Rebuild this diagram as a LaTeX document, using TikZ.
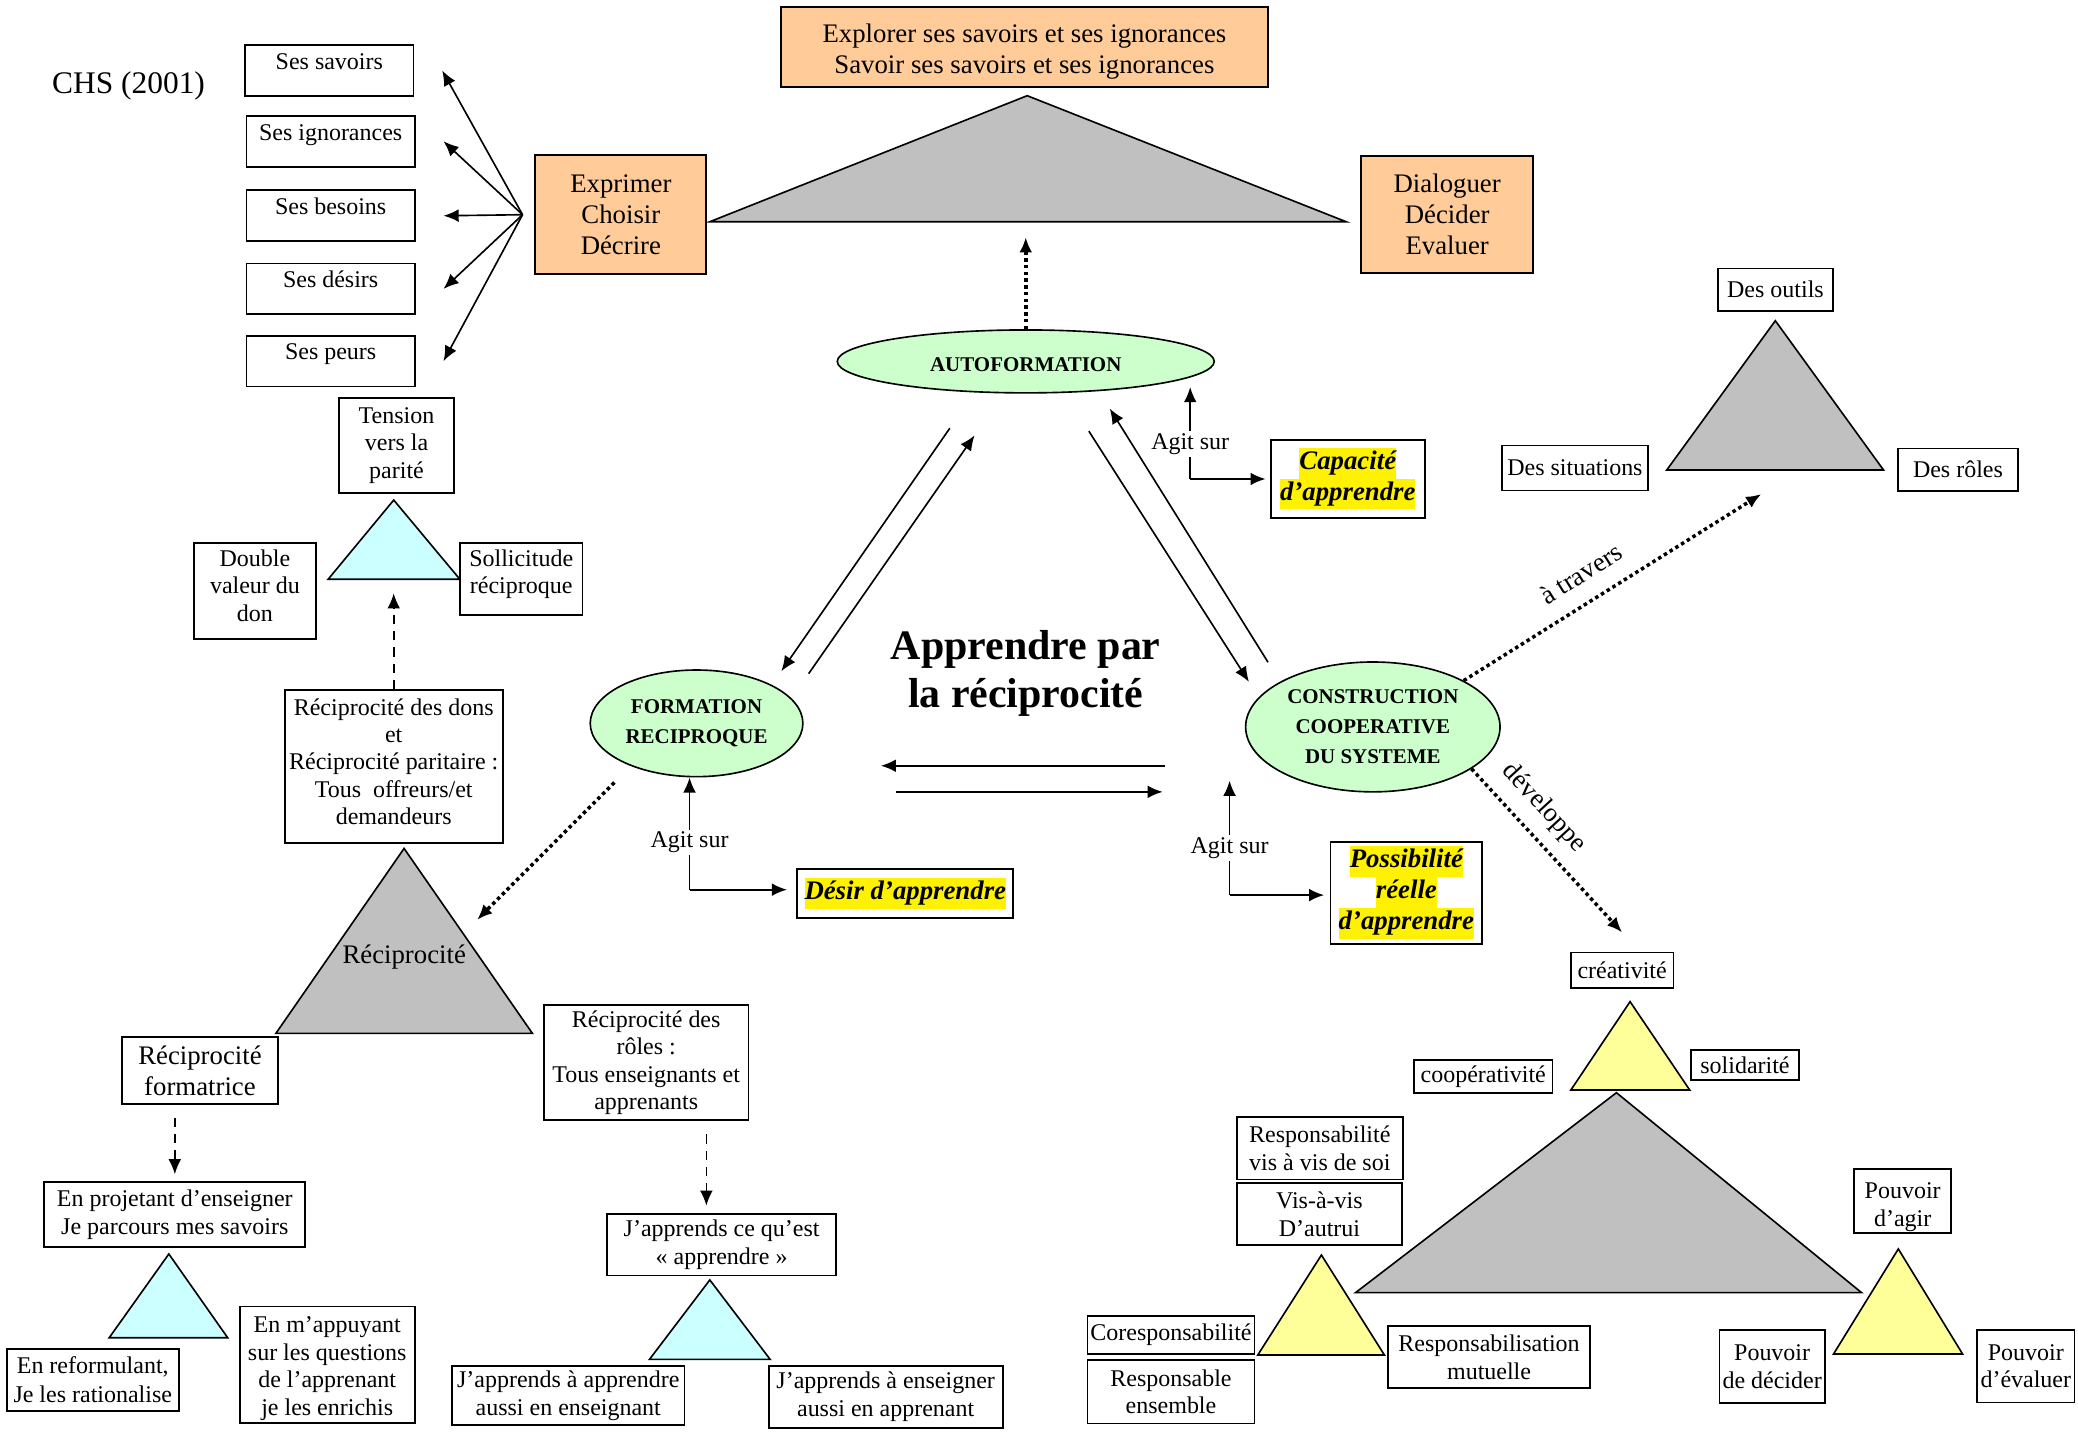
\documentclass[tikz,border=0pt]{standalone}
\usepackage{fontspec}
\setmainfont{Liberation Serif}
\usetikzlibrary{shapes.geometric,arrows.meta}
\definecolor{peche}{HTML}{FFCC99}
\definecolor{gris}{HTML}{C0C0C0}
\definecolor{vertpale}{HTML}{CCFFCC}
\definecolor{cyanpale}{HTML}{CCFFFF}
\definecolor{jaunepale}{HTML}{FFFF99}
\newcommand{\surligne}[1]{{\setlength{\fboxsep}{0pt}\colorbox{yellow}{\strut#1}}}

\begin{document}
\begin{tikzpicture}[x=0.02cm,y=-0.02cm]
 \tikzset{boite/.style={draw,line width=0.8pt,fill=white,align=center,inner sep=1pt,font=\fontsize{10.3}{11.8}\selectfont},
  listebox/.style={boite,minimum width=2.54cm,text height=9.4pt,text depth=10.4pt},
  orange/.style={boite,fill=peche,font=\fontsize{11.5}{13.4}\selectfont},
  bulle/.style={ellipse,draw,line width=0.7pt,fill=vertpale,align=center,inner sep=0pt,font=\fontsize{9}{12.8}\selectfont\bfseries},
  important/.style={boite,font=\fontsize{11.5}{13.2}\selectfont\bfseries\itshape},
  fleche/.style={line width=0.7pt,-{Latex[length=6.5pt,width=5.5pt]}},
  pointille/.style={fleche,line width=1.5pt,dash pattern=on 1.5pt off 1.4pt},
  tirets/.style={fleche,dash pattern=on 4pt off 3pt},
  agit/.style={fill=white,inner sep=1pt,font=\fontsize{10.3}{11.8}\selectfont},
  penche/.style={font=\fontsize{11.5}{13}\selectfont,sloped,inner sep=1pt},
  tri/.style={draw,line width=0.7pt}}
 \useasboundingbox (0,0) rectangle (1568,1080);

 % en haut a gauche
 \node[font=\fontsize{13.5}{15}\selectfont] (chs) at (97,65) {CHS (2001)};
 \node[listebox] (savoirs) at (248.5,53.2) {Ses savoirs};
 \node[listebox] (ignorances) at (249.5,106.6) {Ses ignorances};
 \node[listebox] (besoins) at (249.5,162.8) {Ses besoins};
 \node[listebox] (desirs) at (249.5,218) {Ses désirs};
 \node[listebox] (peurs) at (249.5,272.5) {Ses peurs};

 \node[orange,minimum width=2.58cm,minimum height=1.8cm] (exprimer) at (468.5,162) {Exprimer\\Choisir\\Décrire};
 \node[orange,minimum width=7.35cm,minimum height=1.2cm] (explorer) at (773,35.5) {\rule{0pt}{11.6pt}Explorer ses savoirs et ses ignorances\\Savoir ses savoirs et ses ignorances};
 \node[orange,minimum width=2.6cm,minimum height=1.77cm] (dialoguer) at (1092,161.8) {Dialoguer\\Décider\\Evaluer};
 \draw[tri,fill=gris] (775.1,72.2) -- (535.6,167.3) -- (1015.7,167.3) -- cycle;

 \coordinate (eventail) at ([xshift=-0.18cm]exprimer.west);
 \foreach \n in {savoirs,ignorances,besoins,desirs,peurs}
  \draw[fleche] (eventail) -- ([xshift=0.42cm]\n.east);

 % les trois poles
 \node[bulle,minimum width=5.69cm,minimum height=0.95cm] (autoform) at (774,272.7) {\rule{0pt}{9pt}AUTOFORMATION};
 \node[bulle,minimum width=3.21cm,minimum height=1.61cm] (formation) at (525.6,545.8) {FORMATION\\RECIPROQUE};
 \node[bulle,minimum width=3.84cm,minimum height=1.96cm] (construction) at (1035.9,548.5) {CONSTRUCTION\\COOPERATIVE\\DU SYSTEME};
 \node[font=\fontsize{18}{20.5}\selectfont\bfseries,align=center] (titre) at (774,508) {Apprendre par\\la réciprocité};

 \coordinate (af1) at (716.7,323.1); \coordinate (fa1) at (589.6,506.4);
 \coordinate (fa2) at (610.2,508.3); \coordinate (af2) at (735.4,328.5);
 \coordinate (ac1) at (821.6,325.3); \coordinate (ca1) at (942.4,514.5);
 \coordinate (ca2) at (956.8,499.7); \coordinate (ac2) at (837.4,308.3);
 \coordinate (cf1) at (878.8,577.8); \coordinate (fc1) at (664.6,577.8);
 \coordinate (fc2) at (676.2,597.5); \coordinate (cf2) at (877.4,597.5);
 \draw[fleche] (af1) -- (fa1);
 \draw[fleche] (fa2) -- (af2);
 \draw[fleche] (ac1) -- (ca1);
 \draw[fleche] (ca2) -- (ac2);
 \draw[fleche,line width=0.9pt] (cf1) -- (fc1);
 \draw[fleche,line width=0.9pt] (fc2) -- (cf2);

 \coordinate (pointeA) at (774,179);
 \draw[pointille] (autoform.north) -- (pointeA);

 % agit sur
 \node[important,minimum width=2.33cm,minimum height=1.18cm] (capacite) at (1017,361.2) {\surligne{Capacité}\\\surligne{d’apprendre}};
 \node[important,minimum width=3.26cm,minimum height=0.75cm] (desir) at (683.1,674.2) {\surligne{Désir d’apprendre}};
 \node[important,minimum width=2.29cm,minimum height=1.54cm] (possibilite) at (1061.2,673.5) {\surligne{Possibilité}\\\surligne{réelle}\\\surligne{d’apprendre}};

 \coordinate (coinA) at (898.1,361.4);
 \draw[fleche] (coinA) -- node[agit,pos=0.38] {Agit sur} ([yshift=0.1cm]coinA |- autoform.south);
 \draw[fleche,line width=1pt,shorten >=0.06cm] (coinA) -- (coinA -| capacite.west);
 \coordinate (coinF) at (520.3,671.3);
 \draw[fleche] (coinF) -- node[agit,pos=0.42] {Agit sur} (coinF |- formation.south);
 \draw[fleche,line width=1pt,shorten >=0.14cm] (coinF) -- (coinF -| desir.west);
 \coordinate (coinC) at (927.8,675.4);
 \draw[fleche] (coinC) -- node[agit,pos=0.41] {Agit sur} ([yshift=0.18cm]coinC |- construction.south);
 \draw[fleche,line width=1pt,shorten >=0.08cm] (coinC) -- (coinC -| possibilite.west);

 % a travers
 \node[boite,minimum width=1.73cm,minimum height=0.64cm] (outils) at (1339.7,218.6) {Des outils};
 \node[boite,minimum width=2.2cm,minimum height=0.68cm] (situations) at (1188.4,353.1) {Des situations};
 \node[boite,minimum width=1.82cm,minimum height=0.64cm] (desroles) at (1477.4,354.4) {Des rôles};
 \draw[tri,fill=gris] (1339.6,242) -- (1257.7,354.6) -- (1421.2,354.6) -- cycle;
 \coordinate (pointeS) at (1329,372.8);
 \draw[pointille] (construction.27) -- node[penche,above=6.4pt,pos=0.445] {à travers} (pointeS);

 % reciprocite
 \node[boite,minimum width=1.73cm,minimum height=1.44cm] (tension) at (299.2,336.2) {Tension\\vers la\\parité};
 \draw[tri,fill=cyanpale] (297.1,377.3) -- (247.6,437.1) -- (347,437.1) -- cycle;
 \node[boite,minimum width=1.83cm,minimum height=1.45cm] (double) at (192.4,446) {Double\\valeur du\\don\rule[-4.7pt]{0pt}{4.7pt}};
 \node[boite,minimum width=1.85cm,minimum height=1.09cm] (sollicitude) at (393.3,437) {Sollicitude\\réciproque\rule[-6.2pt]{0pt}{6.2pt}};
 \node[boite,minimum width=3.29cm,minimum height=2.3cm] (recipdons) at (297.1,578.3) {Réciprocité des dons\\et\\Réciprocité paritaire :\\Tous\ \ offreurs/et\\demandeurs\rule[-4.1pt]{0pt}{4.1pt}};
 \coordinate (pointeT) at (297.1,447.7);
 \draw[tirets] (recipdons.north) -- (pointeT);

 \draw[tri,fill=gris] (304.9,640.2) -- (208.2,779.7) -- (401.7,779.7) -- cycle;
 \node[font=\fontsize{11.5}{13}\selectfont] (reciprocite) at (305,722) {Réciprocité};
 \coordinate (pointeR) at (360,694);
 \draw[pointille,shorten <=0.35cm] (formation.213) -- (pointeR);

 \node[boite,font=\fontsize{11.5}{13.3}\selectfont,minimum width=2.35cm,minimum height=1.01cm] (formatrice) at (150.9,808) {Réciprocité\\formatrice};
 \node[boite,font=\fontsize{10.3}{12.2}\selectfont,minimum width=3.94cm,minimum height=0.99cm] (projetant) at (131.9,916.5) {En projetant d’enseigner\\Je parcours mes savoirs};
 \draw[tirets,shorten <=0.19cm,shorten >=0.1cm] (projetant.north |- formatrice.south) -- (projetant.north);
 \draw[tri,fill=cyanpale] (127.4,946.2) -- (82.4,1009.4) -- (171.8,1009.4) -- cycle;
 \node[boite,font=\fontsize{10.3}{12.2}\selectfont,minimum width=2.6cm,minimum height=0.94cm] (reformulant) at (70,1041.1) {En reformulant,\\Je les rationalise};
 \node[boite,minimum width=2.64cm,minimum height=1.67cm] (appuyant) at (246.9,1029.7) {\rule{0pt}{10.4pt}En m’appuyant\\sur les questions\\de l’apprenant\\je les enrichis};

 \node[boite,minimum width=3.09cm,minimum height=1.74cm] (rolesrecip) at (487.6,801.7) {Réciprocité des\\rôles :\\Tous enseignants et\\apprenants};
 \node[boite,minimum width=3.45cm,minimum height=0.93cm] (apprendsce) at (544.5,939.2) {J’apprends ce qu’est\\«~apprendre~»};
 \draw[tirets,shorten <=0.2cm,shorten >=0.11cm] ([xshift=-0.23cm]apprendsce.north |- rolesrecip.south) -- ([xshift=-0.23cm]apprendsce.north);
 \draw[tri,fill=cyanpale] (535.6,965.8) -- (490.1,1025.7) -- (581.1,1025.7) -- cycle;
 \node[boite,minimum width=3.51cm,minimum height=0.89cm] (apprendre2) at (428.8,1053) {J’apprends à apprendre\\aussi en enseignant};
 \node[boite,minimum width=3.53cm,minimum height=0.93cm] (enseigner2) at (668.3,1054) {J’apprends à enseigner\\aussi en apprenant};

 % developpe
 \node[boite,minimum width=1.55cm,minimum height=0.53cm] (creativite) at (1224,732) {créativité};
 \draw[pointille] (construction.-23) -- node[penche,above=4.5pt,pos=0.35] {développe} ([yshift=0.29cm]creativite.north);
 \draw[tri,fill=jaunepale] (1230,755.8) -- (1185.3,822.5) -- (1275,822.5) -- cycle;
 \node[boite,minimum width=2.09cm,minimum height=0.49cm] (cooperativite) at (1119.2,812.2) {coopérativité};
 \node[boite,minimum width=1.62cm,minimum height=0.46cm] (solidarite) at (1316.7,803.5) {solidarité};
 \draw[tri,fill=gris] (1219.7,824.5) -- (1022.8,975.4) -- (1404.7,975.4) -- cycle;

 \node[boite,minimum width=2.5cm,minimum height=0.95cm] (respsoi) at (995.9,866.3) {Responsabilité\\vis à vis de soi};
 \node[boite,minimum width=2.49cm,minimum height=0.93cm] (respautrui) at (995.6,916.2) {Vis-à-vis\\D’autrui};
 \draw[tri,fill=jaunepale] (997.1,947) -- (949.1,1022.4) -- (1044.6,1022.4) -- cycle;
 \node[boite,minimum width=2.52cm,minimum height=0.58cm] (coresp) at (883.6,1007.2) {Coresponsabilité};
 \node[boite,minimum width=2.52cm,minimum height=0.96cm] (ensemble) at (883.6,1050.1) {Responsable\\ensemble};
 \node[boite,minimum width=3.04cm,minimum height=0.94cm] (mutuelle) at (1123.6,1024.1) {Responsabilisation\\mutuelle};

 \node[boite,inner sep=0pt,minimum width=1.47cm,minimum height=0.96cm] (agir) at (1435.7,906.3) {\rule{0pt}{12pt}Pouvoir\\d’agir};
 \draw[tri,fill=jaunepale] (1432.4,942.4) -- (1383.5,1021.7) -- (1480.9,1021.7) -- cycle;
 \node[boite,minimum width=1.59cm,minimum height=1.11cm] (decider) at (1337.2,1031.2) {Pouvoir\\de décider};
 \node[boite,minimum width=1.47cm,minimum height=1.1cm] (evaluer) at (1528.6,1030.8) {Pouvoir\\d’évaluer};
\end{tikzpicture}
\end{document}
